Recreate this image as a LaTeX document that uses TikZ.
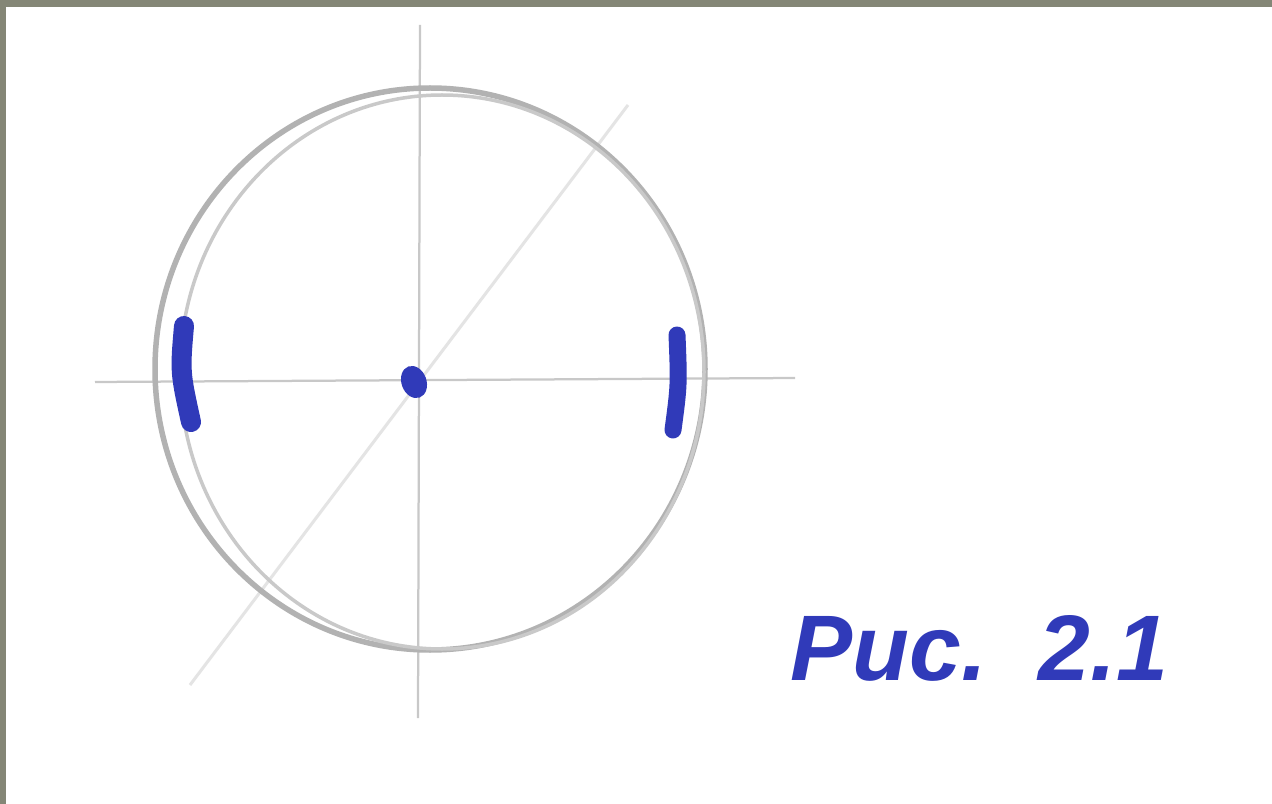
\documentclass[tikz,border=0pt]{standalone}
\usepackage{fontspec}
\setmainfont{Liberation Sans}
\usepackage{tikz}
\usetikzlibrary{calc,shapes.geometric}
\usepackage{xcolor}
\definecolor{framegrey}{RGB}{132,134,118}
\definecolor{sketchgrey}{RGB}{178,178,178}
\definecolor{axisgrey}{RGB}{200,200,200}
\definecolor{diaggrey}{RGB}{228,228,228}
\definecolor{inkblue}{RGB}{48,58,185}

\begin{document}
\begin{tikzpicture}[x=0.02cm, y=-0.02cm, every node/.style={font=\bfseries\itshape\fontsize{53}{60}\selectfont}]
\useasboundingbox (0,0) rectangle (1272,804);
\fill[framegrey] (0,0) rectangle (1272,804);
\fill[white] (6,7) rectangle (1272,804);
% axes
\coordinate (xl) at (95,382);
\coordinate (xr) at (795,378);
\coordinate (yt) at (420,25);
\coordinate (yb) at (418,718);
\coordinate (dl) at (190,685);
\coordinate (du) at (628,105);
\draw[diaggrey, line width=0.06cm] (dl) -- (du);
\draw[axisgrey, line width=0.045cm] (xl) -- (xr);
\draw[axisgrey, line width=0.045cm] (yt) -- (yb);
% sketched circle
\draw[sketchgrey, line width=0.11cm] (430,369) ellipse [x radius=275, y radius=281];
\draw[sketchgrey!70, line width=0.07cm] (442,372) ellipse [x radius=262, y radius=277];
% blue marks
\node[fill=inkblue, ellipse, draw=none, minimum width=0.5cm, minimum height=0.66cm, inner sep=0pt, rotate=20] (o) at (414,382) {};
\draw[inkblue, line width=0.4cm, line cap=round] (184,326) .. controls (180,372) .. (191,422);
\draw[inkblue, line width=0.34cm, line cap=round] (677,335) .. controls (679,385) .. (673,430);
\node[inkblue, anchor=base west, inner sep=0pt] (cap) at (790,680) {Рис.\ \ 2.1};
\end{tikzpicture}
\end{document}
